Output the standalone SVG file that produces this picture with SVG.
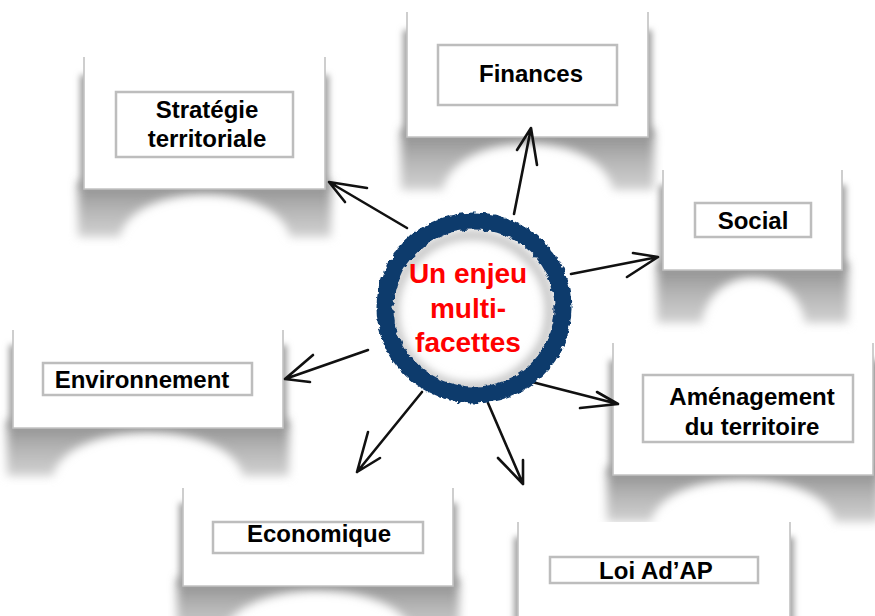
<svg xmlns="http://www.w3.org/2000/svg" width="875" height="616" viewBox="0 0 875 616">
<defs>
<filter id="blur5" x="-20%" y="-20%" width="140%" height="140%"><feGaussianBlur stdDeviation="5"/></filter>
<filter id="blur3" x="-20%" y="-20%" width="140%" height="140%"><feGaussianBlur stdDeviation="3"/></filter>
<filter id="rough" x="-10%" y="-10%" width="120%" height="120%">
<feTurbulence type="fractalNoise" baseFrequency="0.18" numOctaves="2" seed="3" result="n"/>
<feDisplacementMap in="SourceGraphic" in2="n" scale="6" xChannelSelector="R" yChannelSelector="G"/>
</filter>
<linearGradient id="sg" x1="0" y1="0" x2="0" y2="1">
<stop offset="0" stop-color="#8a8a8a"/>
<stop offset="0.5" stop-color="#b4b4b4"/>
<stop offset="1" stop-color="#d2d2d2"/>
</linearGradient>
<style>
.shadow{fill:url(#sg);filter:url(#blur5)}
.side{fill:#a0a0a0;filter:url(#blur3)}
.card{fill:#fff}
.edge{fill:none;stroke:#c2c2c2;stroke-width:1.6}
.inner{fill:#fff;stroke:#bdbdbd;stroke-width:2.5}
.lbl{font-family:"Liberation Sans",Arial,sans-serif;font-weight:bold;font-size:24px;fill:#000;text-anchor:middle}
.ctr{font-family:"Liberation Sans",Arial,sans-serif;font-weight:bold;font-size:28px;fill:#ff0000;text-anchor:middle}
.arr{fill:none;stroke:#111;stroke-width:2.6;stroke-linecap:round;stroke-linejoin:round}
</style>
</defs>
<rect width="875" height="616" fill="#fff"/>

<g id="strategie">
<path class="shadow" d="M78,181 H331 V237 H290 C278,180 132,180 120,237 H78 Z"/>
<rect class="side" x="80" y="75" width="249" height="114"/>
<rect class="card" x="84" y="57" width="241" height="132"/>
<path class="edge" d="M84,57 V189 H325 V57"/>
<rect class="inner" x="116" y="92" width="177" height="65"/>
<text class="lbl" x="207" y="118">Stratégie</text>
<text class="lbl" x="207" y="147">territoriale</text>
</g>

<g id="finances">
<path class="shadow" d="M401,129 H654 V190 H613 C601,128 455,128 443,190 H401 Z"/>
<rect class="side" x="403" y="30" width="249" height="107"/>
<rect class="card" x="407" y="12" width="241" height="125"/>
<path class="edge" d="M407,12 V137 H648 V12"/>
<rect class="inner" x="438" y="45" width="179" height="60"/>
<text class="lbl" x="531" y="82">Finances</text>
</g>

<g id="social">
<path class="shadow" d="M657,262 H848 V323 H805 C797,262 710,262 702,323 H657 Z"/>
<rect class="side" x="659" y="185" width="187" height="85"/>
<rect class="card" x="663" y="170" width="179" height="100"/>
<path class="edge" d="M663,170 V270 H842 V170"/>
<rect class="inner" x="695" y="203" width="116" height="34"/>
<text class="lbl" x="753" y="229">Social</text>
</g>

<g id="environnement">
<path class="shadow" d="M7,420 H289 V476 H243 C230,418 66,418 53,476 H7 Z"/>
<rect class="side" x="9" y="345" width="278" height="83"/>
<rect class="card" x="13" y="330" width="270" height="98"/>
<path class="edge" d="M13,330 V428 H283 V330"/>
<rect class="inner" x="43" y="363" width="209" height="32"/>
<text class="lbl" x="142" y="388">Environnement</text>
</g>

<g id="amenagement">
<path class="shadow" d="M607,467 H879 V522 H835 C822,465 664,465 651,522 H607 Z"/>
<rect class="side" x="609" y="360" width="270" height="115"/>
<rect class="card" x="613" y="343" width="260" height="132"/>
<path class="edge" d="M613,343 V475 H873 V343"/>
<rect class="inner" x="643" y="375" width="210" height="67"/>
<text class="lbl" x="752" y="405">Aménagement</text>
<text class="lbl" x="752" y="435">du territoire</text>
</g>

<g id="economique">
<path class="shadow" d="M177,578 H459 V634 H413 C400,576 236,576 223,634 H177 Z"/>
<rect class="side" x="179" y="503" width="278" height="83"/>
<rect class="card" x="183" y="488" width="270" height="98"/>
<path class="edge" d="M183,488 V586 H453 V488"/>
<rect class="inner" x="213" y="522" width="210" height="31"/>
<text class="lbl" x="319" y="542">Economique</text>
</g>

<g id="loi">
<rect class="side" x="514" y="537" width="280" height="90"/>
<rect class="card" x="518" y="522" width="272" height="100"/>
<path class="edge" d="M518,522 V620 M790,620 V522"/>
<rect class="inner" x="550" y="557" width="208" height="26"/>
<text class="lbl" x="656" y="579">Loi Ad’AP</text>
</g>

<g id="connectors">
<path class="arr" d="M407,228 L329,182 M367,188 L329,182 L345,202"/>
<path class="arr" d="M514,214 L531,128 M517,150 L531,128 L537,165"/>
<path class="arr" d="M571,274 L658,257 M633,253 L658,257 L627,277"/>
<path class="arr" d="M368,350 L285,379 M313,355 L285,379 L310,382"/>
<path class="arr" d="M422,392 L357,472 M368,432 L357,472 L380,458"/>
<path class="arr" d="M532,382 L618,404 M597,392 L618,404 L580,408"/>
<path class="arr" d="M488,403 L523,484 M498,458 L523,484 L523,460"/>
</g>

<g id="center">
<ellipse cx="473" cy="309" rx="82" ry="80" fill="#fff"/>
<ellipse cx="472" cy="311" rx="78" ry="76" fill="none" stroke="#b8b8b8" stroke-width="8" filter="url(#blur5)"/>
<ellipse cx="474" cy="308" rx="89" ry="87" fill="none" stroke="#0d3a6c" stroke-width="17" filter="url(#rough)"/>
<text class="ctr" x="468" y="283">Un enjeu</text>
<text class="ctr" x="468" y="318">multi-</text>
<text class="ctr" x="468" y="352">facettes</text>
</g>
</svg>
